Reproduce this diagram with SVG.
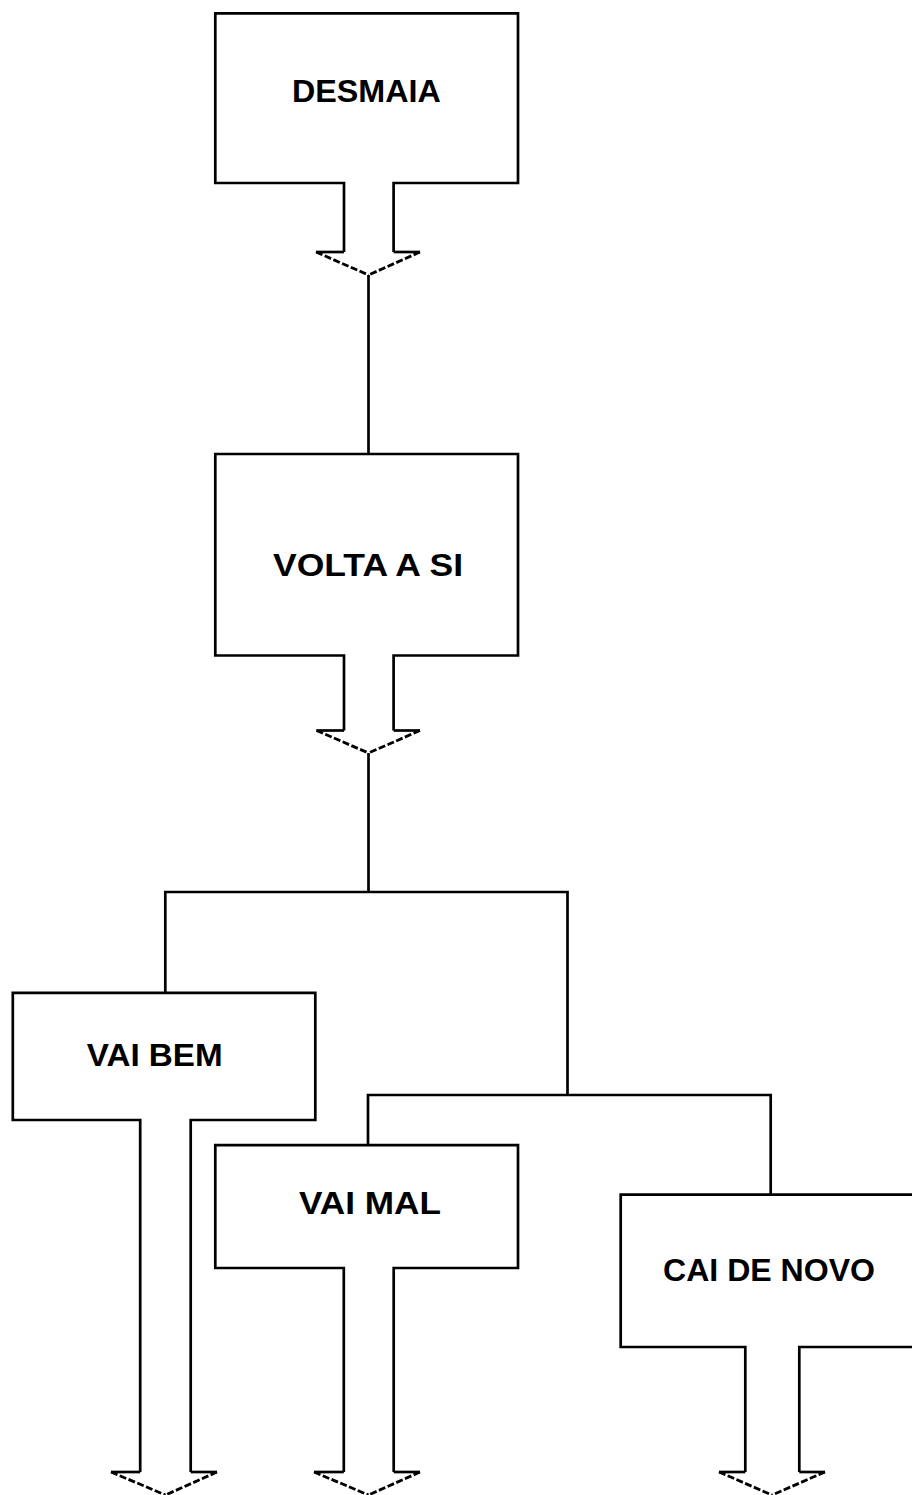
<svg xmlns="http://www.w3.org/2000/svg" width="912" height="1495" viewBox="0 0 912 1495">
<style>
.box{fill:#fff;stroke:#000;stroke-width:2.7;stroke-linejoin:miter}
.ln{fill:none;stroke:#000;stroke-width:2.7}
.wing{fill:none;stroke:#000;stroke-width:2.7}
.diag{fill:none;stroke:#000;stroke-width:2.8;stroke-dasharray:7 2.5}
.lbl{font-family:"Liberation Sans",Arial,sans-serif;font-weight:bold;font-size:31px;fill:#000;text-anchor:middle}
</style>
<rect width="912" height="1495" fill="#fff"/>
<g id="connectors">
<line class="ln" x1="368.5" y1="275" x2="368.5" y2="454"/>
<line class="ln" x1="368.5" y1="753" x2="368.5" y2="892"/>
<polyline class="ln" points="165.3,993 165.3,892 567.5,892 567.5,1095"/>
<polyline class="ln" points="368,1145 368,1095 770.7,1095 770.7,1195"/>
</g>
<g id="node-desmaia">
<path class="box" d="M344,252 L344,183 L215.3,183 L215.3,13.3 L518,13.3 L518,183 L393.6,183 L393.6,252"/>
<polyline class="wing" points="316,252 344,252"/>
<polyline class="wing" points="393.6,252 420,252"/>
<line class="diag" x1="316" y1="252" x2="368.5" y2="275"/>
<line class="diag" x1="420" y1="252" x2="368.5" y2="275"/>
<text class="lbl" x="366.4" y="101.5" textLength="149" lengthAdjust="spacingAndGlyphs">DESMAIA</text>
</g>
<g id="node-volta">
<path class="box" d="M344,730.5 L344,655.5 L215.3,655.5 L215.3,454 L518,454 L518,655.5 L393.6,655.5 L393.6,730.5"/>
<polyline class="wing" points="316.5,730.5 344,730.5"/>
<polyline class="wing" points="393.6,730.5 420,730.5"/>
<line class="diag" x1="316.5" y1="730.5" x2="368.5" y2="753"/>
<line class="diag" x1="420" y1="730.5" x2="368.5" y2="753"/>
<text class="lbl" x="368" y="576" textLength="190" lengthAdjust="spacingAndGlyphs">VOLTA A SI</text>
</g>
<g id="node-vaibem">
<path class="box" d="M140.2,1472 L140.2,1120 L12.8,1120 L12.8,992.8 L315.3,992.8 L315.3,1120 L190.7,1120 L190.7,1472"/>
<polyline class="wing" points="111,1472 140.2,1472"/>
<polyline class="wing" points="190.7,1472 217,1472"/>
<line class="diag" x1="111" y1="1472" x2="165.5" y2="1495"/>
<line class="diag" x1="217" y1="1472" x2="165.5" y2="1495"/>
<text class="lbl" x="154.7" y="1065.5" textLength="136" lengthAdjust="spacingAndGlyphs">VAI BEM</text>
</g>
<g id="node-vaimal">
<path class="box" d="M343.8,1472 L343.8,1268 L215.3,1268 L215.3,1145.2 L518,1145.2 L518,1268 L393.7,1268 L393.7,1472"/>
<polyline class="wing" points="314,1472 343.8,1472"/>
<polyline class="wing" points="393.7,1472 420,1472"/>
<line class="diag" x1="314" y1="1472" x2="368.5" y2="1495"/>
<line class="diag" x1="420" y1="1472" x2="368.5" y2="1495"/>
<text class="lbl" x="370" y="1214" textLength="142" lengthAdjust="spacingAndGlyphs">VAI MAL</text>
</g>
<g id="node-caidenovo">
<path class="box" d="M745.3,1472 L745.3,1347 L620.7,1347 L620.7,1194.7 L930,1194.7 L930,1347 L799.3,1347 L799.3,1472"/>
<polyline class="wing" points="719,1472 745.3,1472"/>
<polyline class="wing" points="799.3,1472 825,1472"/>
<line class="diag" x1="719" y1="1472" x2="772" y2="1495"/>
<line class="diag" x1="825" y1="1472" x2="772" y2="1495"/>
<text class="lbl" x="769" y="1280.5" textLength="212" lengthAdjust="spacingAndGlyphs">CAI DE NOVO</text>
</g>
</svg>
